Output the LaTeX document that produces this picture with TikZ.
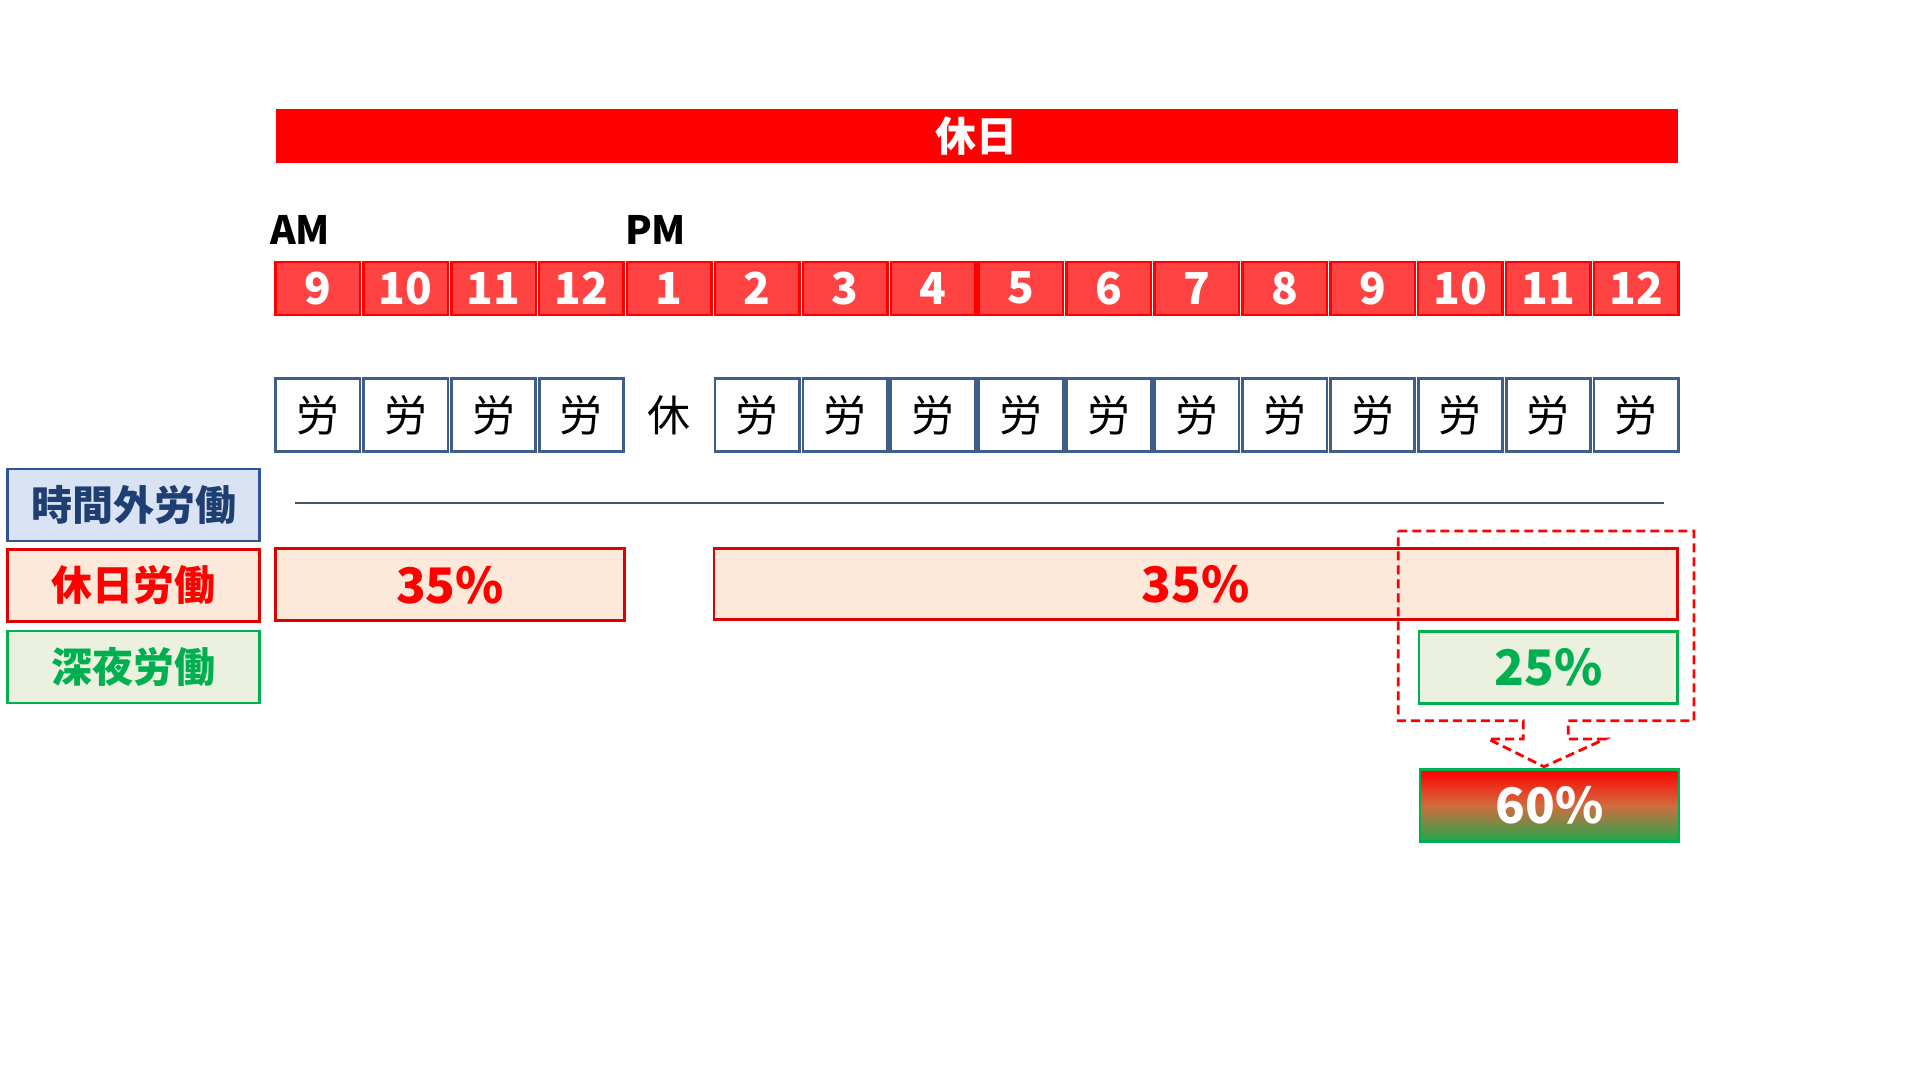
\documentclass[tikz,border=0pt]{standalone}
\usepackage{fontspec}
\newfontfamily\jp{Noto Sans CJK JP}
\definecolor{barred}{HTML}{FF0000}
\definecolor{hourfill}{HTML}{FF4343}
\definecolor{workline}{HTML}{3F5F8A}
\definecolor{sepline}{HTML}{44546A}
\definecolor{blueFill}{HTML}{DAE3F3}
\definecolor{blueLine}{HTML}{2F5597}
\definecolor{blueText}{HTML}{1F3F73}
\definecolor{redFill}{HTML}{FDE9DA}
\definecolor{redLine}{HTML}{E00000}
\definecolor{greenFill}{HTML}{EBF1DE}
\definecolor{greenLine}{HTML}{00B050}
\definecolor{gradMid}{HTML}{D26C3E}
\definecolor{gradBot}{HTML}{1FA84C}
\tikzset{
  fsz/.style={font=\jp\fontsize{#1}{#1}\selectfont},
  bfsz/.style={font=\jp\bfseries\fontsize{#1}{#1}\selectfont},
  hourbox/.style={draw=barred, line width=2.5pt, fill=hourfill, minimum width=84.5pt, minimum height=53pt, inner sep=0pt, text=white, bfsz=44},
  workbox/.style={draw=workline, line width=2.8pt, fill=white, minimum width=84.5pt, minimum height=73pt, inner sep=0pt, text=black, fsz=43},
  restnode/.style={minimum width=84.5pt, minimum height=73pt, inner sep=0pt, text=black, fsz=43},
  catbox/.style={line width=2.8pt, minimum width=252pt, minimum height=72pt, inner sep=0pt, bfsz=41},
  ratebox/.style={line width=2.8pt, minimum height=72pt, inner sep=0pt, bfsz=49},
  ampm/.style={anchor=west, inner sep=0pt, text=black, bfsz=39},
  dashline/.style={draw=barred, line width=2.8pt, dash pattern=on 9pt off 5pt}
}
\begin{document}
\begin{tikzpicture}[x={(1pt,0pt)}, y={(0pt,-1pt)}]
\path[use as bounding box, fill=white] (0,0) rectangle (1920,1080);

% top bar
\node[fill=barred, minimum width=1402pt, minimum height=54pt, inner sep=0pt, text=white, bfsz=41] (top) at (976.5,136) {休日};

% AM / PM
\node[ampm] (am) at (270,230) {AM};
\node[ampm] (pm) at (625,230) {PM};

% hour boxes
\foreach \t [count=\i] in {9,10,11,12,1,2,3,4,5,6,7,8,9,10,11,12}{
  \node[hourbox] (h\i) at (229.85+\i*87.9, 288.3) {\t};
}

% work / rest boxes
\foreach \i in {1,...,16}{
  \ifnum\i=5
    \node[restnode] (w\i) at (229.85+\i*87.9, 415) {休};
  \else
    \node[workbox] (w\i) at (229.85+\i*87.9, 415) {労};
  \fi
}

% separator line for overtime row
\coordinate (s1) at (295,503);
\coordinate (s2) at (1664,503);
\draw[sepline, line width=1.5pt] (s1) -- (s2);

% category labels
\node[catbox, draw=blueLine, fill=blueFill, text=blueText] (c1) at (133.5,505) {時間外労働};
\node[catbox, draw=redLine, fill=redFill, text=barred] (c2) at (133.5,585.3) {休日労働};
\node[catbox, draw=greenLine, fill=greenFill, text=greenLine] (c3) at (133.5,667) {深夜労働};

% holiday work bars
\node[ratebox, draw=redLine, fill=redFill, text=barred, minimum width=349pt] (b1) at (450,584.8) {35\%};
\node[ratebox, draw=redLine, fill=redFill, text=barred, minimum width=963.6pt, minimum height=71pt] (b2) at (1195.8,584) {35\%};

% night work bar
\node[ratebox, draw=greenLine, fill=greenFill, text=greenLine, minimum width=258.7pt] (n1) at (1548.3,667.2) {25\%};

% dashed callout with arrow
\draw[dashline, line join=miter] (1398.3,531) -- (1694,531) -- (1694,720.7) -- (1568.3,720.7) -- (1568.3,739) -- (1605,739) -- (1544,766.7) -- (1488.3,739) -- (1523.3,739) -- (1523.3,720.7) -- (1398.3,720.7) -- cycle;

% total
\node[ratebox, draw=greenLine, top color=barred, bottom color=gradBot, middle color=gradMid, text=white, minimum width=259pt] (tot) at (1549.5,805.5) {60\%};
\end{tikzpicture}
\end{document}
